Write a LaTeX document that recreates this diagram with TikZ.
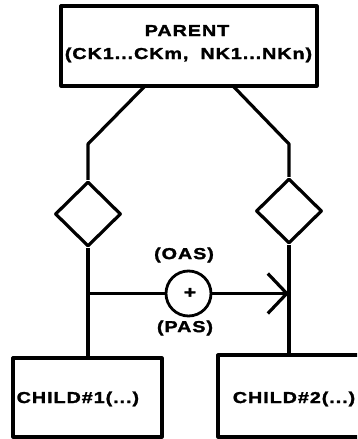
\documentclass[tikz,border=0pt]{standalone}
\usepackage{fontspec}
\usetikzlibrary{shapes.geometric,arrows.meta}
\newfontfamily\lblfont{Liberation Sans Bold}[FakeStretch=1.25,LetterSpace=6,FakeBold=1.8]
\begin{document}
\begin{tikzpicture}[x=1pt,y=-1pt,
  line join=round,
  box/.style={draw, line width=3.2pt, rectangle, inner sep=0pt},
  dia/.style={draw, line width=3.2pt, diamond, inner sep=0pt, minimum width=66pt, minimum height=65pt},
  link/.style={line width=3.2pt},
  lbl/.style={font=\lblfont\fontsize{15.8}{18}\selectfont, inner sep=0pt}]
\useasboundingbox (0,0) rectangle (357,439);
\clip (0,0) rectangle (357,439);

% entity boxes
\node[box, minimum width=256pt, minimum height=80pt] (parent) at (189,46) {};
\node[lbl, anchor=base] (ptitle) at (187,36) {PARENT};
\node[lbl, anchor=base] (pkeys) at (188.5,59) {(CK1...CKm,\hspace{12pt}NK1...NKn)};
\node[box, minimum width=149pt, minimum height=79pt] (child1) at (87.5,397.5) {};
\node[lbl, anchor=base west] (c1text) at (16.5,403) {CHILD\#1(...)};
\node[box, minimum width=152pt, minimum height=82pt] (child2) at (294,396) {};
\node[lbl, anchor=base] (c2text) at (294,403) {CHILD\#2(...)};

% relationship diamonds
\node[dia] (ldia) at (88,214) {};
\node[dia] (rdia) at (289,211) {};

% bends of the links from the parent
\coordinate (lpb) at (145,86);
\coordinate (lbend) at (88,144);
\coordinate (rpb) at (233,86);
\coordinate (rbend) at (289,144);

\draw[link] (lpb) -- (lbend) -- (ldia.north);
\draw[link] (rpb) -- (rbend) -- (rdia.north);
\draw[link] (ldia.south) -- (ldia.south |- child1.north);
\draw[link] (rdia.south) -- (rdia.south |- child2.north);

% constraint between the two relationships
\node[draw, circle, line width=2.8pt, minimum size=45pt, inner sep=0pt] (circ) at (188.5,293.5) {};
\node[font=\lblfont\fontsize{17}{17}\selectfont, inner sep=0pt] (plus) at (190,293) {+};
\node[lbl] (oas) at (184,255) {(OAS)};
\node[lbl] (pas) at (185,328) {(PAS)};
\draw[line width=2.2pt] (circ.west) -- (circ -| ldia);
\draw[line width=3.2pt, -{Straight Barb[length=19pt, width=40pt, line width=3.2pt]}] (circ.east) -- (circ -| rdia);
\end{tikzpicture}
\end{document}
